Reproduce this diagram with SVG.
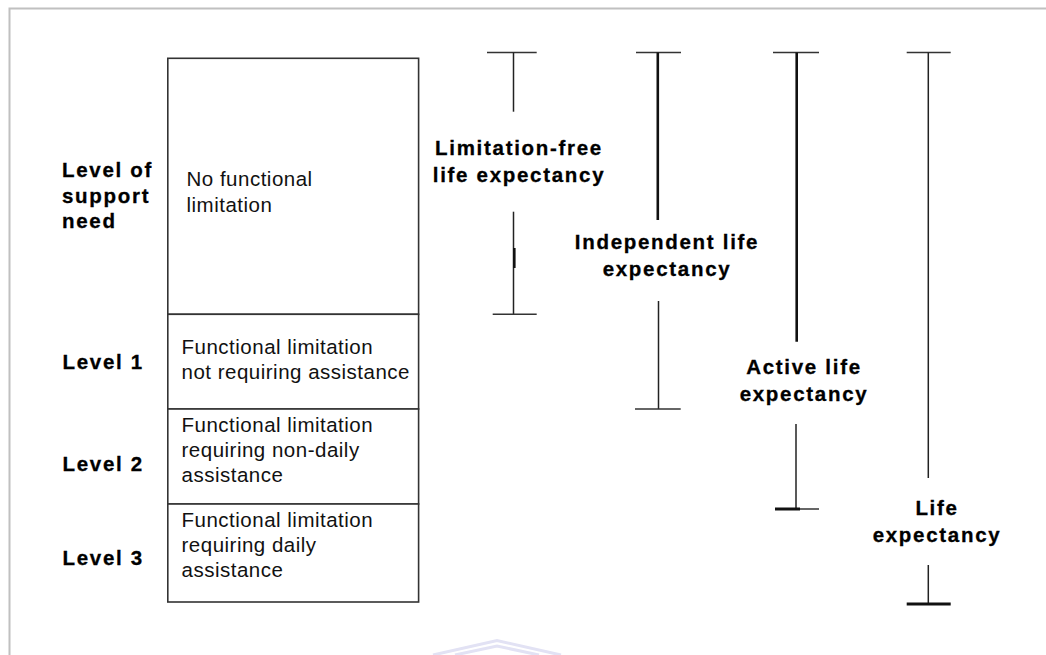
<svg xmlns="http://www.w3.org/2000/svg" width="1046" height="655" viewBox="0 0 1046 655">
  <style>
    .frame { fill: none; stroke: #c0c0c0; stroke-width: 2; }
    .cell { fill: #ffffff; stroke: #333333; stroke-width: 1.6; }
    .stem { stroke: #222222; stroke-width: 1.5; fill: none; }
    .stem-heavy { stroke: #111111; stroke-width: 2.6; fill: none; }
    .cap { stroke: #333333; stroke-width: 1.6; fill: none; }
    .cap-heavy { stroke: #111111; stroke-width: 3; fill: none; }
    .lbl { font-family: "Liberation Sans", Arial, sans-serif; font-size: 20.5px; font-weight: bold; fill: #000000; stroke: #000000; stroke-width: 0.3px; letter-spacing: 1.7px; }
    .txt { font-family: "Liberation Sans", Arial, sans-serif; font-size: 20.5px; fill: #111111; letter-spacing: 0.5px; }
    .mid { text-anchor: middle; }
    .mark { fill: none; stroke: #e2e2f4; stroke-width: 3; }
  </style>

  <rect width="1046" height="655" fill="#ffffff"/>
  <!-- outer frame: top and left edges -->
  <path class="frame" d="M9.5,655 V8.5 H1046"/>

  <!-- support-level labels -->
  <g id="level-heading">
    <text class="lbl" x="62" y="177">Level of</text>
    <text class="lbl" x="62" y="202.5">support</text>
    <text class="lbl" x="62" y="228">need</text>
  </g>
  <g id="level-1-label"><text class="lbl" x="62.5" y="368.5">Level 1</text></g>
  <g id="level-2-label"><text class="lbl" x="62.5" y="471">Level 2</text></g>
  <g id="level-3-label"><text class="lbl" x="62.5" y="565">Level 3</text></g>

  <!-- stacked limitation cells -->
  <g id="cell-none">
    <rect class="cell" x="167.8" y="58.3" width="250.8" height="256"/>
    <text class="txt" x="186.5" y="186">No functional</text>
    <text class="txt" x="186.5" y="211.5">limitation</text>
  </g>
  <g id="cell-level-1">
    <rect class="cell" x="167.8" y="314.3" width="250.8" height="94.7"/>
    <text class="txt" x="181.5" y="353.5">Functional limitation</text>
    <text class="txt" x="181.5" y="378.5">not requiring assistance</text>
  </g>
  <g id="cell-level-2">
    <rect class="cell" x="167.8" y="409" width="250.8" height="95"/>
    <text class="txt" x="181.5" y="431.7">Functional limitation</text>
    <text class="txt" x="181.5" y="456.7">requiring non-daily</text>
    <text class="txt" x="181.5" y="481.7">assistance</text>
  </g>
  <g id="cell-level-3">
    <rect class="cell" x="167.8" y="504" width="250.8" height="98"/>
    <text class="txt" x="181.5" y="526.7">Functional limitation</text>
    <text class="txt" x="181.5" y="551.7">requiring daily</text>
    <text class="txt" x="181.5" y="576.7">assistance</text>
  </g>

  <!-- span bars -->
  <g id="connectors">
    <g id="bar-limitation-free">
      <line class="cap" x1="487" y1="52.5" x2="536.7" y2="52.5"/>
      <line class="stem" x1="513.5" y1="52.5" x2="513.5" y2="111.7"/>
      <line class="stem" x1="513.5" y1="211.7" x2="513.5" y2="314.3"/>
      <line class="stem-heavy" x1="514.3" y1="248" x2="514.3" y2="268"/>
      <line class="cap" x1="492.7" y1="314.3" x2="536.7" y2="314.3"/>
    </g>
    <g id="bar-independent">
      <line class="cap" x1="636" y1="52.5" x2="681" y2="52.5"/>
      <line class="stem-heavy" x1="657.8" y1="52.5" x2="657.8" y2="220"/>
      <line class="stem" x1="658.5" y1="301" x2="658.5" y2="409"/>
      <line class="cap" x1="635" y1="409" x2="680.7" y2="409"/>
    </g>
    <g id="bar-active">
      <line class="cap" x1="773" y1="52.5" x2="819" y2="52.5"/>
      <line class="stem-heavy" x1="796.7" y1="52.5" x2="796.7" y2="341.7"/>
      <line class="stem" x1="796" y1="424" x2="796" y2="509"/>
      <line class="cap" x1="775" y1="509" x2="819" y2="509"/>
      <line class="cap-heavy" x1="775" y1="509" x2="800" y2="509"/>
    </g>
    <g id="bar-life">
      <line class="cap" x1="906.7" y1="52.5" x2="950.7" y2="52.5"/>
      <line class="stem" x1="928.3" y1="52.5" x2="928.3" y2="478"/>
      <line class="stem" x1="928.3" y1="565" x2="928.3" y2="604"/>
      <line class="cap-heavy" x1="906.7" y1="604" x2="950.7" y2="604"/>
    </g>
  </g>

  <!-- span labels -->
  <g id="label-limitation-free">
    <text class="lbl mid" x="519" y="155">Limitation-free</text>
    <text class="lbl mid" x="519" y="182">life expectancy</text>
  </g>
  <g id="label-independent">
    <text class="lbl mid" x="667" y="249">Independent life</text>
    <text class="lbl mid" x="667" y="276">expectancy</text>
  </g>
  <g id="label-active">
    <text class="lbl mid" x="804" y="374">Active life</text>
    <text class="lbl mid" x="804" y="401">expectancy</text>
  </g>
  <g id="label-life">
    <text class="lbl mid" x="937" y="514.5">Life</text>
    <text class="lbl mid" x="937" y="541.5">expectancy</text>
  </g>

  <!-- faint stamp at the lower edge -->
  <path class="mark" d="M433,655 L497,640.5 L561,655"/>
  <path class="mark" d="M455,655 L497,646 L539,655" stroke-width="2"/>
</svg>
